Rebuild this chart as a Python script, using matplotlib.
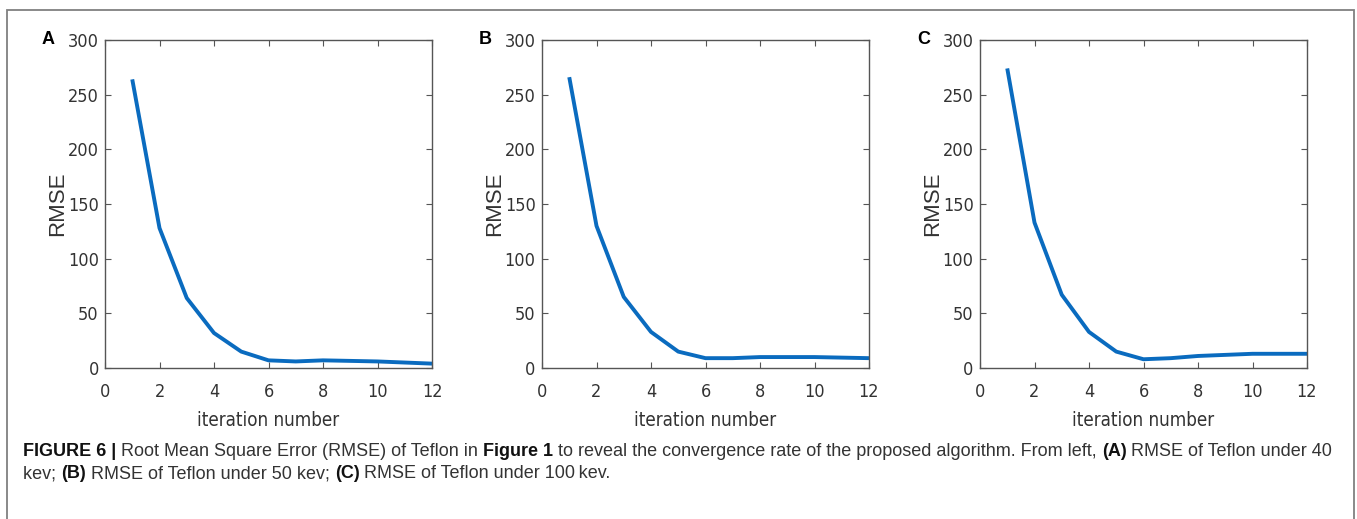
import os
import numpy as np
import matplotlib
matplotlib.use('Agg')
import matplotlib.pyplot as plt
from matplotlib.patches import Rectangle
from matplotlib import font_manager
from matplotlib.font_manager import FontProperties

# iteration index and RMSE values
iterations = [1, 2, 3, 4, 5, 6, 7, 8, 9, 10, 11, 12]
rmse_40kev = [264, 128, 64, 32, 15, 7, 6, 7, 6.5, 6, 5, 4]
rmse_50kev = [266, 130, 65, 33, 15, 9, 9, 10, 10, 10, 9.5, 9]
rmse_100kev = [274, 133, 67, 33, 15, 8, 9, 11, 12, 13, 13, 13]
panel_labels = ['A', 'B', 'C']
x_ticks = [0, 2, 4, 6, 8, 10, 12]
y_ticks = [0, 50, 100, 150, 200, 250, 300]

# narrow face for the MATLAB-looking axes text, picked by file
narrow_file = None
files = [f.fname for f in font_manager.fontManager.ttflist]
for key in ('LiberationSansNarrow-Regular', 'DejaVuSansCondensed'):
    for fn in files:
        if os.path.basename(fn).startswith(key) and \
                'Bold' not in fn and 'Oblique' not in fn and 'Italic' not in fn:
            narrow_file = fn
            break
    if narrow_file:
        break


def axes_font(size):
    if narrow_file:
        return FontProperties(fname=narrow_file, size=size)
    return FontProperties(family='Liberation Sans', size=size)


tick_size = 13
xlabel_size = 13.5

W, H = 1357, 519
fig = plt.figure(figsize=(W / 100, H / 100), dpi=100)

# outer frame of the figure box
fig.patches.append(Rectangle((7 / W, -0.05), (1354 - 7) / W, 1.05 - 10 / H,
                             transform=fig.transFigure, fill=False,
                             edgecolor='#808080', lw=1.3))

lefts = [105, 542, 980]
series = [rmse_40kev, rmse_50kev, rmse_100kev]
for left, vals, lab in zip(lefts, series, panel_labels):
    ax = fig.add_axes([left / W, (H - 368) / H, 327 / W, 328 / H])
    ax.plot(iterations, vals, color='#0a6bbf', lw=2.8, solid_capstyle='butt')
    ax.set_xlim(0, 12)
    ax.set_ylim(0, 300)
    ax.set_xticks(x_ticks)
    ax.set_yticks(y_ticks)
    ax.tick_params(direction='in', length=4, width=0.8, top=True, right=True,
                   colors='#555555', labelcolor='#333333')
    ax.tick_params(axis='x', pad=11)
    ax.tick_params(axis='y', pad=4.5)
    for t in ax.get_xticklabels() + ax.get_yticklabels():
        t.set_fontproperties(axes_font(tick_size))
    for s in ax.spines.values():
        s.set_color('#555555')
        s.set_linewidth(1.0)
    ax.set_xlabel('iteration number', fontproperties=axes_font(xlabel_size), color='#333333')
    ax.xaxis.set_label_coords(0.5, -(421 - 368) / 328)
    ax.xaxis.label.set_va('center')
    ax.set_ylabel('RMSE', family='Liberation Sans', fontsize=16, color='#333333')
    ax.yaxis.set_label_coords(-(105 - 57.5) / 327, 0.5)
    ax.yaxis.label.set_va('center')
    fig.text((left - 63) / W, 1 - 40 / H, lab, ha='left', va='center',
             fontsize=13, fontweight='bold', family='Liberation Sans', color='black')

# caption with mixed bold/regular runs
lines = [
    [('FIGURE 6 |', True), (' Root Mean Square Error (RMSE) of Teflon in ', False),
     ('Figure 1', True), (' to reveal the convergence rate of the proposed algorithm. From left, ', False),
     ('(A)', True), (' RMSE of Teflon under 40', False)],
    [('kev; ', False), ('(B)', True), (' RMSE of Teflon under 50 kev; ', False),
     ('(C)', True), (' RMSE of Teflon under 100\u2009kev.', False)],
]
line_y = [452, 474]
fig.canvas.draw()
renderer = fig.canvas.get_renderer()
for segs, yy in zip(lines, line_y):
    x = 23
    for txt, bold in segs:
        t = fig.text(x / W, 1 - yy / H, txt, ha='left', va='center', fontsize=12.95,
                     family=['Liberation Sans', 'DejaVu Sans'],
                     fontweight='bold' if bold else 'normal',
                     color='#111111' if bold else '#333333')
        bb = t.get_window_extent(renderer)
        x += bb.width

fig.savefig('out.png', dpi=100)
